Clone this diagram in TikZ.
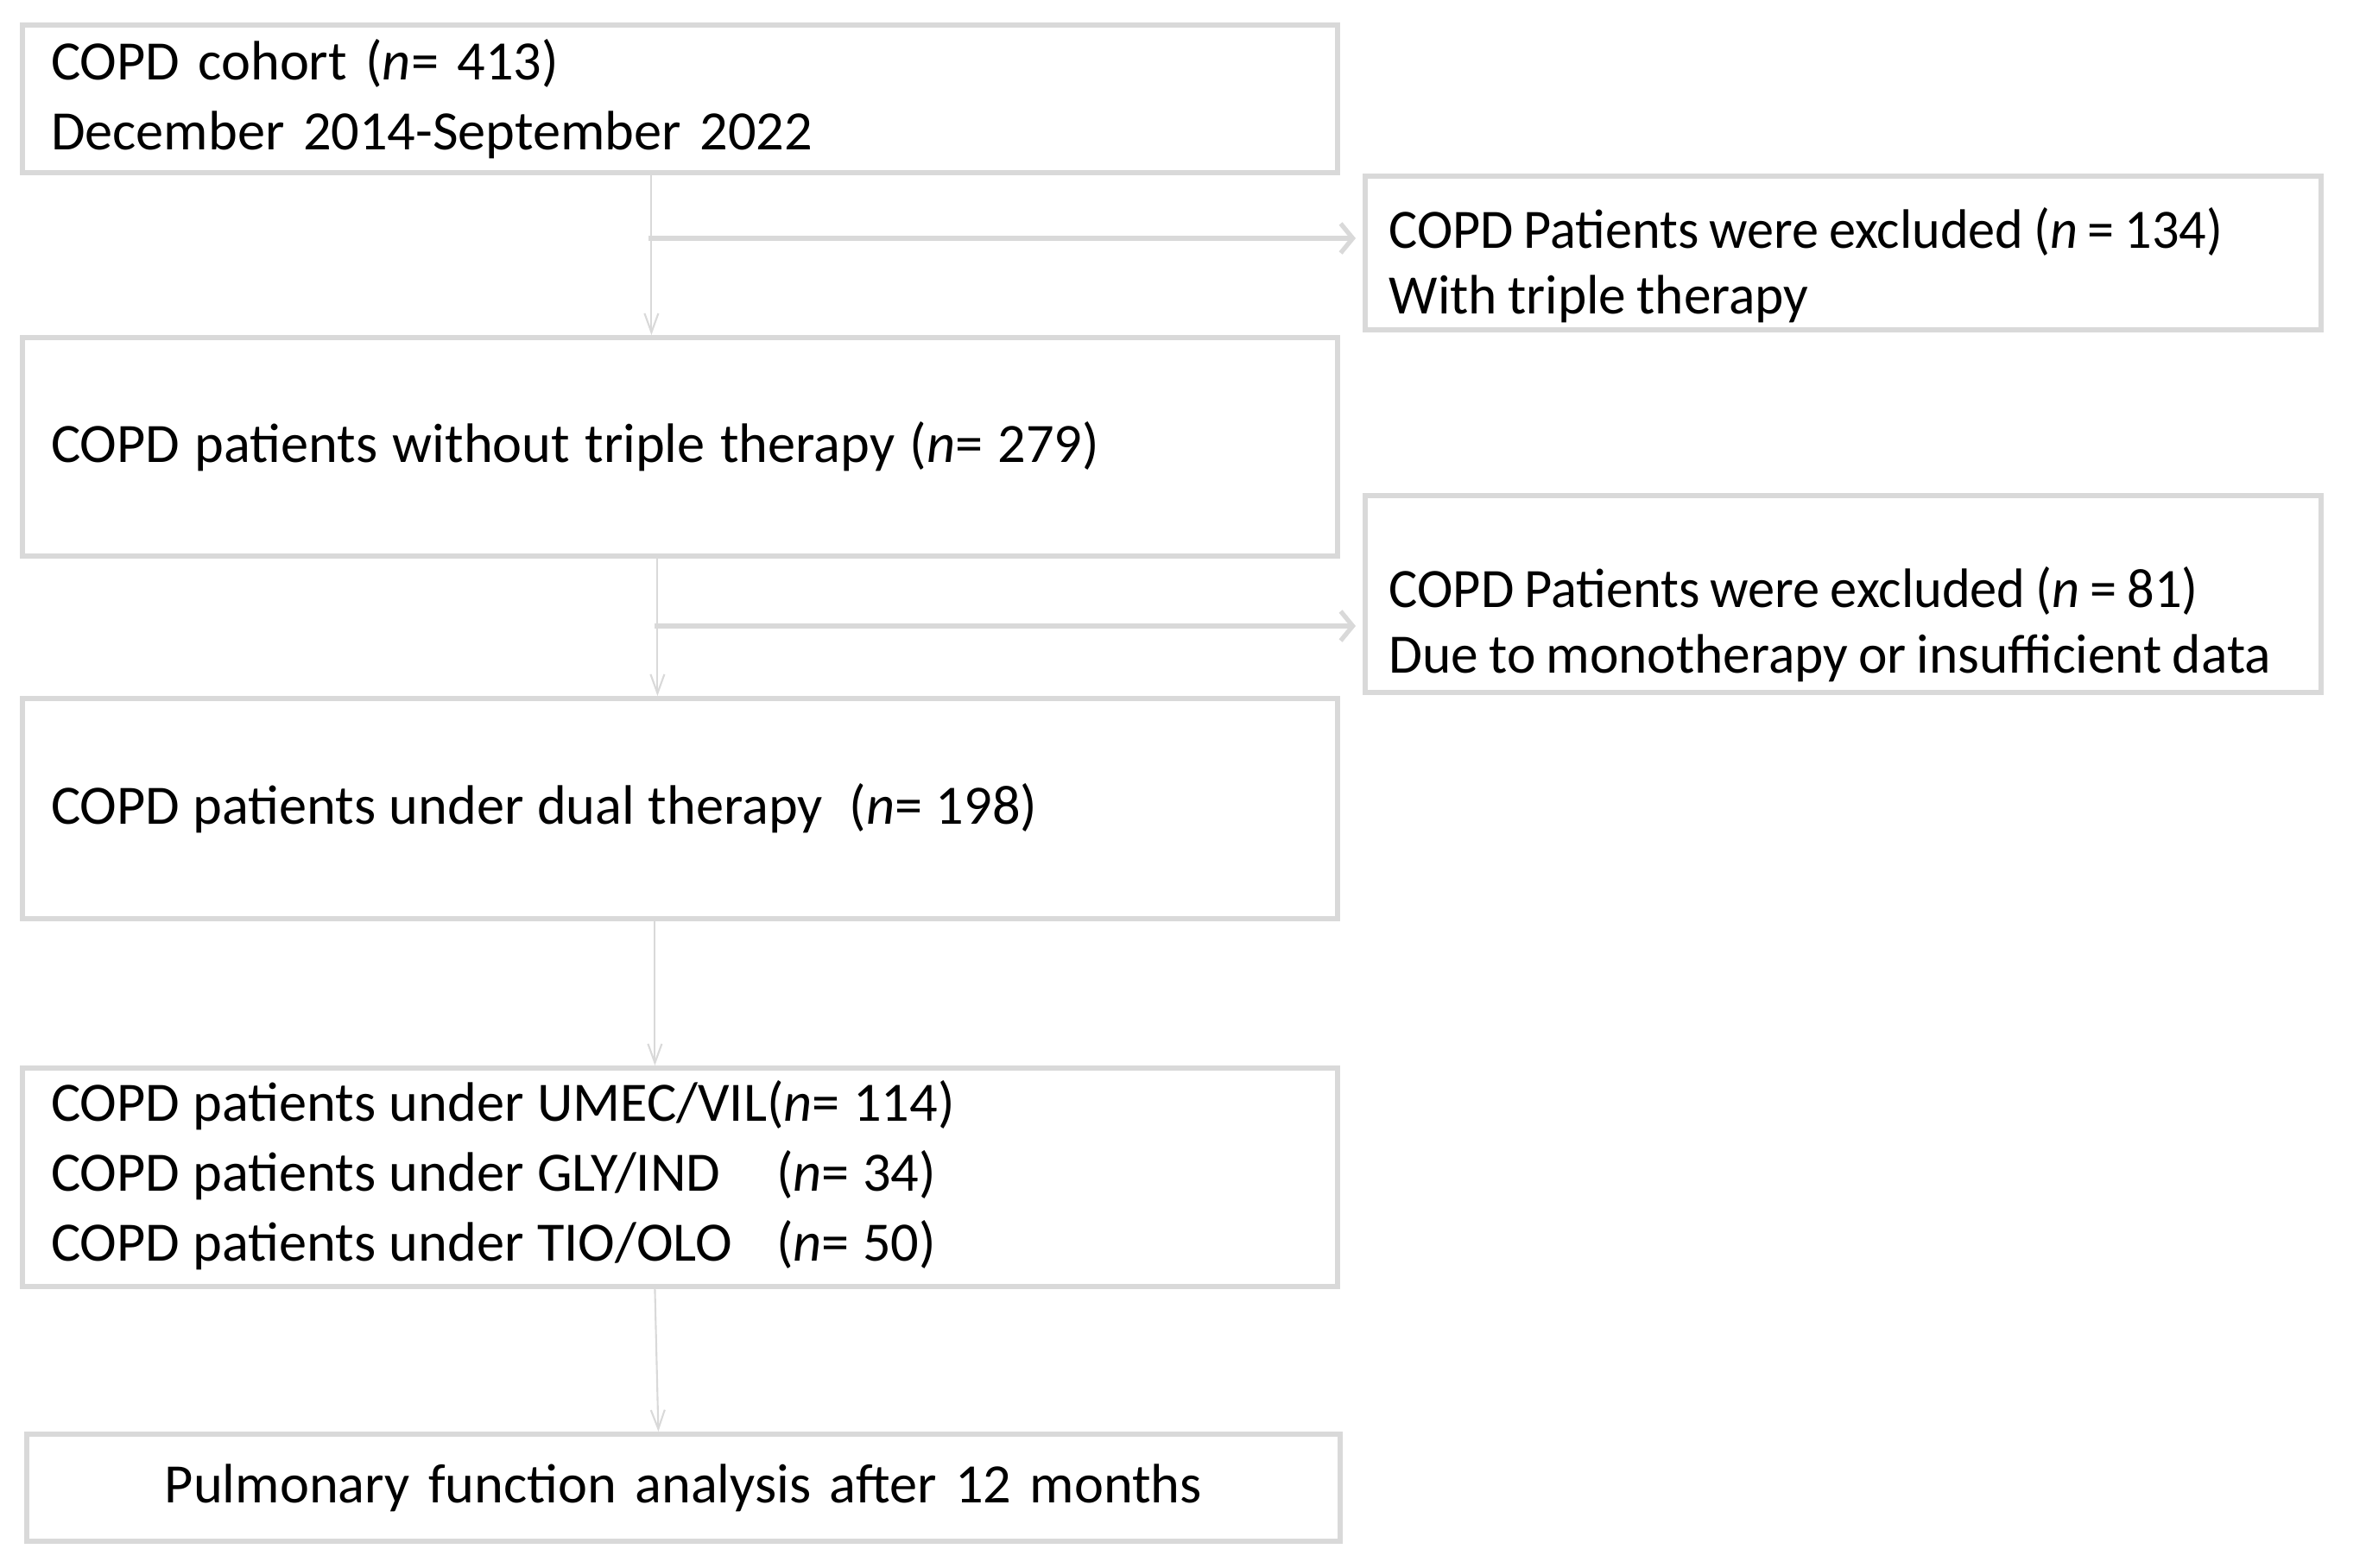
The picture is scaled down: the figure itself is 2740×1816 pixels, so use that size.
\documentclass[tikz,border=0pt]{standalone}
\usepackage{fontspec}
\usepackage{graphicx}
\setmainfont{Carlito}
\usetikzlibrary{arrows.meta}
\definecolor{bordergray}{HTML}{D9D9D9}
\definecolor{linegray}{HTML}{D9D9D9}
\newcommand\wsline[2]{\hbox{\spaceskip=#1em\relax #2}}
\begin{document}
\begin{tikzpicture}[x=0.01cm,y=-0.01cm,
  box/.style={draw=bordergray, line width=1.7pt, inner xsep=0.33cm, inner ysep=0pt,
    align=left, anchor=north west, font=\fontsize{18.3}{23}\selectfont},
  txt/.style={inner sep=0pt, align=left, anchor=west, font=\fontsize{18.3}{21.6}\selectfont},
  vline/.style={draw=linegray, line width=0.6pt, -{Straight Barb[length=0.22cm,width=0.16cm]}},
  hline/.style={draw=linegray, line width=1.5pt, shorten >=0.08cm, -{Straight Barb[length=0.14cm,width=0.34cm]}},
]
\useasboundingbox (0,0) rectangle (2740,1816);

\node[box, minimum width=15.22cm, minimum height=1.71cm, text width=14.56cm] (b1) at (23,26)
  {COPD cohort (\textit{n}= 413)\\December 2014-September 2022};
\node[box, minimum width=11.06cm, minimum height=1.78cm] (e1) at (1578,201) {};
\node[txt] (t1) at (1608,307)
  {\scalebox{0.967}[1]{\wsline{0.19}{COPD Patients were excluded (\textit{n} = 134)}}\\
   \scalebox{0.985}[1]{\wsline{0.19}{With triple therapy}}};
\node[box, minimum width=15.22cm, minimum height=2.53cm, text width=14.56cm] (b2) at (23,388)
  {\wsline{0.27}{COPD patients without triple therapy (\textit{n}= 279)}};
\node[box, minimum width=11.06cm, minimum height=2.28cm] (e2) at (1578,571) {};
\node[txt] (t2) at (1608,723)
  {\scalebox{0.97}[1]{\wsline{0.19}{COPD Patients were excluded (\textit{n} = 81)}}\\
   \scalebox{0.985}[1]{\wsline{0.19}{Due to monotherapy or insufficient data}}};
\node[box, minimum width=15.22cm, minimum height=2.55cm, text width=14.56cm] (b3) at (23,806)
  {\wsline{0.24}{COPD patients under dual therapy \ (\textit{n}= 198)}};
\node[box, minimum width=15.22cm, minimum height=2.53cm, text width=14.56cm] (b4) at (23,1234)
  {\begin{tabular}{@{}l@{}l@{}}
   \wsline{0.24}{COPD patients under UMEC/VIL}&\wsline{0.24}{(\textit{n}= 114)}\\
   \wsline{0.24}{COPD patients under GLY/IND}&\wsline{0.24}{\hspace{0.11cm}(\textit{n}= 34)}\\
   \wsline{0.24}{COPD patients under TIO/OLO}&\wsline{0.24}{\hspace{0.11cm}(\textit{n}= 50)}
   \end{tabular}};
\node[box, align=center, minimum width=15.20cm, minimum height=1.24cm, text width=14.54cm] (b5) at (28,1658)
  {Pulmonary function analysis after 12 months};

\coordinate (j1) at (751,276);
\coordinate (j2) at (758,725);

\draw[vline] ([xshift=-0.33cm]b1.south) -- ([xshift=-0.33cm]b2.north);
\draw[hline] (j1) -- (j1 -| e1.west);
\draw[vline] ([xshift=-0.26cm]b2.south) -- ([xshift=-0.26cm]b3.north);
\draw[hline] (j2) -- (j2 -| e2.west);
\draw[vline] ([xshift=-0.29cm]b3.south) -- ([xshift=-0.29cm]b4.north);
\draw[vline] ([xshift=-0.29cm]b4.south) -- ([xshift=-0.29cm]b5.north);
\end{tikzpicture}
\end{document}
